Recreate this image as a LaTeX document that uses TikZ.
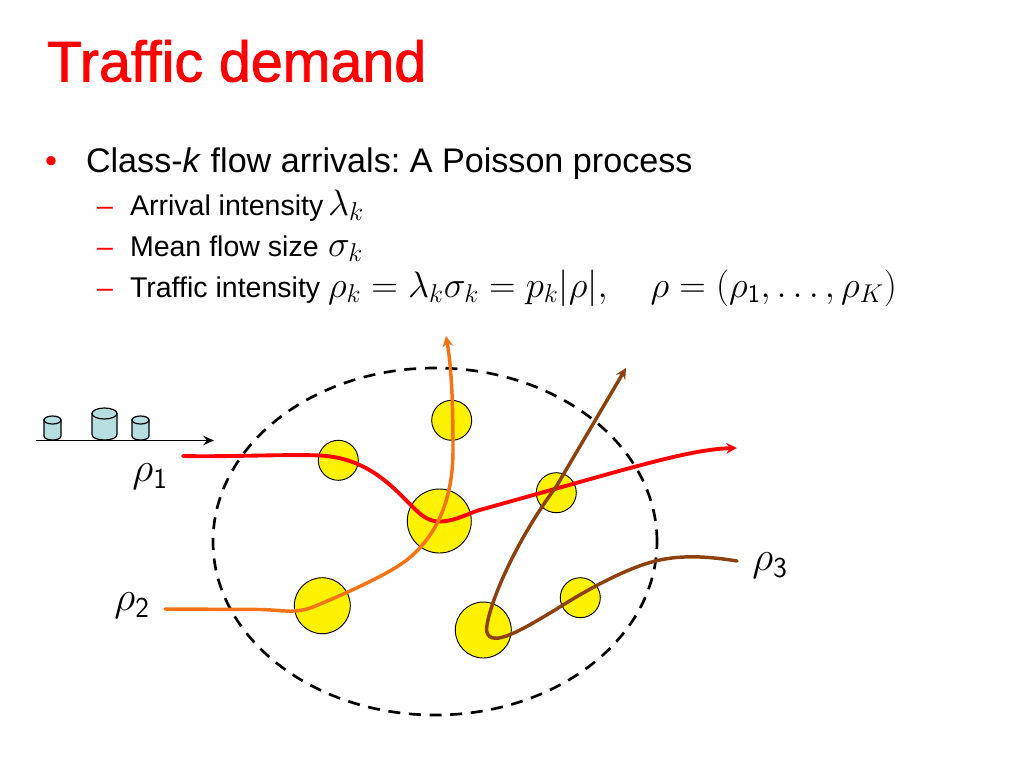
\RequirePackage{fix-cm}
\documentclass[tikz,border=0pt]{standalone}
\usepackage{fontspec}
\setmainfont{Liberation Sans}
\newfontfamily\titlefont[FakeBold=1.5]{Liberation Sans}
\usetikzlibrary{arrows.meta,shapes.geometric}
\definecolor{tred}{RGB}{255,0,0}
\definecolor{torange}{RGB}{245,115,20}
\definecolor{tbrown}{RGB}{140,65,15}
\definecolor{tcyl}{RGB}{183,221,224}
\frenchspacing
\tikzset{
  txt/.style={anchor=base west,inner sep=0pt,outer sep=0pt},
  titletxt/.style={txt,text=tred,font=\titlefont\fontsize{43}{48}\selectfont},
  lvlone/.style={txt,font=\fontsize{25.6}{30}\selectfont},
  lvltwo/.style={txt,font=\fontsize{21.4}{24}\selectfont},
  mathbig/.style={txt,font=\fontsize{27.6}{32}\selectfont},
  rholabel/.style={anchor=center,inner sep=0pt,font=\fontsize{31}{36}\selectfont},
  hub/.style={circle,draw=black,fill=yellow,line width=0.7pt,inner sep=0pt,minimum size=#1*0.75pt},
  flow/.style={line width=2.6pt,line cap=round},
  flowtip/.style={-{Stealth[length=8pt,width=8pt]}},
  pics/cylpic/.style args={#1/#2/#3}{code={
    \draw[fill=tcyl,draw=black,line width=0.9pt]
      ({-#1},{#3}) -- ({-#1},{#2-#3})
      .. controls ({-#1},{#2+#3/3}) and ({#1},{#2+#3/3}) .. ({#1},{#2-#3})
      -- ({#1},{#3}) -- cycle;
    \draw[fill=tcyl,draw=black,line width=0.9pt] (0,{#3}) ellipse [x radius={#1},y radius={#3}];
  }}
}
\begin{document}
\begin{tikzpicture}[x=0.75pt,y=-0.75pt]
\useasboundingbox (0,0) rectangle (1024,768);
\node[titletxt] (title) at (47,81.5) {Traffic demand};
\node[lvlone,text=tred] (b1) at (45,172) {•};
\node[lvlone] (l1) at (86,172) {Class-\textit{k} flow arrivals: A Poisson process};
\node[lvltwo,text=tred] (d1) at (97,215) {–};
\node[lvltwo,text=tred] (d2) at (97,256) {–};
\node[lvltwo,text=tred] (d3) at (97,297) {–};
\node[lvltwo] (l2) at (130,215) {Arrival intensity};
\node[lvltwo] (l3) at (130,256) {Mean flow size};
\node[lvltwo] (l4) at (130,297) {Traffic intensity};
\node[mathbig] (m1) at (328,215) {$\lambda_k$};
\node[mathbig] (m2) at (328,256) {$\sigma_k$};
\node[mathbig] (m3) at (328,297) {$\rho_k=\lambda_k\sigma_k=p_k|\rho|,\quad\rho=(\rho_{\mathsf{1}},\dots,\rho_K)$};

% network boundary
\node[ellipse,draw=black,dash pattern=on 9pt off 6.5pt,line width=2pt,minimum width=444*0.75pt,minimum height=347*0.75pt,inner sep=0pt] (net) at (435,541.5) {};

% hubs
\node[hub=40] (h1) at (338.3,460.3) {};
\node[hub=40] (h2) at (451.7,420.3) {};
\node[hub=64] (h3) at (439.3,521) {};
\node[hub=40] (h4) at (556.3,492.7) {};
\node[hub=56] (h5) at (322.3,605.7) {};
\node[hub=56] (h6) at (483.3,630) {};
\node[hub=40] (h7) at (580.3,597.7) {};

% flow ends
\coordinate (r0) at (183,456);
\coordinate (r1) at (737,448);
\coordinate (o0) at (165,609);
\coordinate (o1) at (446,336);
\coordinate (b0) at (737,561);
\coordinate (b1e) at (626,368);

\draw[flow,tred,line width=2.9pt,flowtip] (r0) .. controls (230,457) and (290,454) .. (320,455.5)
  .. controls (370,458) and (395,490) .. (413,507)
  .. controls (423,518) and (432,522) .. (441,521.5)
  .. controls (455,521) and (470,513) .. (478,510.5)
  -- (620,470.7)
  .. controls (660,460) and (700,449) .. (r1);
\draw[flow,torange,flowtip] (o0) -- (262,609.5)
  .. controls (280,610) and (295,614) .. (313,607)
  .. controls (330,600) and (370,583) .. (395,568)
  .. controls (425,550) and (453,515) .. (453,450)
  .. controls (453,410) and (452,370) .. (o1);
\draw[flow,tbrown,flowtip] (b0) .. controls (700,555) and (672,555) .. (645,564)
  .. controls (615,574) and (580,594) .. (555,610)
  .. controls (535,622) and (515,634) .. (503,637)
  .. controls (490,641) and (485,635) .. (487,625)
  .. controls (492,595) and (520,535) .. (556,487)
  -- (b1e);

% flow illustration
\coordinate (a0) at (36,440.5);
\coordinate (a1) at (214,440.5);
\pic at (52.5,416) {cylpic=8.5/24/4};
\pic at (104.5,408) {cylpic=12.5/32/5.5};
\pic at (140.5,416) {cylpic=8.5/24/4};
\draw[line width=1.1pt,-{Stealth[length=8pt,width=7pt]}] (a0) -- (a1);

\node[rholabel] (rho1) at (150,477) {$\rho_{\mathsf{1}}$};
\node[rholabel] (rho2) at (132,606) {$\rho_{\mathsf{2}}$};
\node[rholabel] (rho3) at (770,566) {$\rho_{\mathsf{3}}$};
\end{tikzpicture}
\end{document}
